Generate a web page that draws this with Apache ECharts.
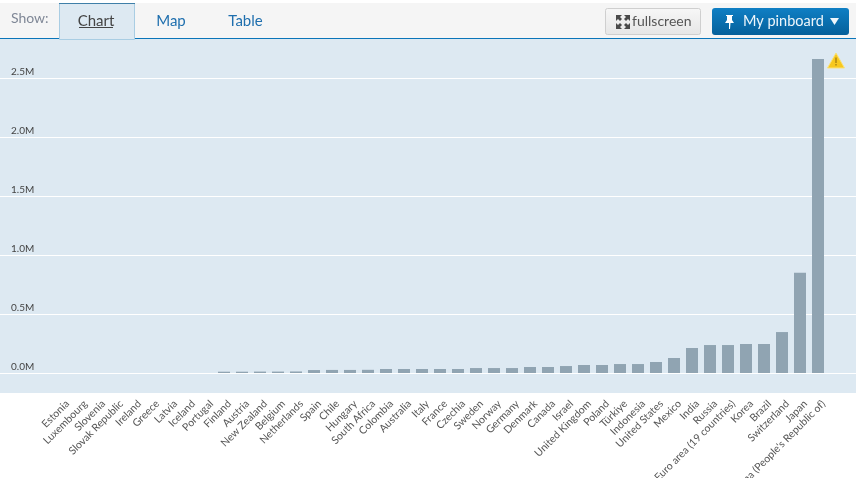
<!DOCTYPE html>
<html><head><meta charset="utf-8">
<style>html,body{margin:0;padding:0;background:#fff}#c{width:856px;height:478px}</style>
<script src="https://cdn.jsdelivr.net/npm/echarts@6/dist/echarts.min.js"></script>
</head><body><div id="c"></div>
<script>
const categories = ["Estonia","Luxembourg","Slovenia","Slovak Republic","Ireland","Greece","Latvia","Iceland","Portugal","Finland","Austria","New Zealand","Belgium","Netherlands","Spain","Chile","Hungary","South Africa","Colombia","Australia","Italy","France","Czechia","Sweden","Norway","Germany","Denmark","Canada","Israel","United Kingdom","Poland","Türkiye","Indonesia","United States","Mexico","India","Russia","Euro area (19 countries)","Korea","Brazil","Switzerland","Japan","China (People's Republic of)"];
const values = [0,0,0,0,0,0,0,0,0,0.011,0.011,0.012,0.012,0.013,0.025,0.026,0.026,0.027,0.034,0.034,0.034,0.034,0.034,0.042,0.042,0.042,0.051,0.051,0.059,0.068,0.068,0.076,0.076,0.093,0.127,0.212,0.237,0.237,0.246,0.246,0.347,0.85,2.66];
const yTicks = [0,0.5,1,1.5,2,2.5];
const font = 'Lato';
const chart = echarts.init(document.getElementById('c'),null,{renderer:'canvas'});
const grad = (a,b)=>new echarts.graphic.LinearGradient(0,0,0,1,[{offset:0,color:a},{offset:1,color:b}]);
const rect=(x,y,w,h,style,r,z)=>({type:'rect',shape:{x,y,width:w,height:h,r:r||0},style,z:z===undefined?-10:z,silent:true});
const txt=(x,y,t,fill,size,align)=>({type:'text',x,y,style:{text:t,fill,font:size+'px '+font,textAlign:align||'left',textVerticalAlign:'middle'},z:5,silent:true});
const poly=(points,fill)=>({type:'polygon',shape:{points},style:{fill},z:5,silent:true});
const arrow=(x,y,sx,sy)=>poly([[x,y],[x+6*sx,y],[x+4*sx,y+2*sy],[x+6*sx,y+4*sy],[x+4*sx,y+6*sy],[x+2*sx,y+4*sy],[x,y+6*sy]],'#4a4a4a');
chart.setOption({
  animation:false,
  backgroundColor:'#fff',
  graphic:{elements:[
    rect(0,3,856,35,{fill:'#f5f5f5'}),
    rect(0,39,856,354,{fill:'#dde9f2'}),
    rect(0,38,856,1,{fill:'#0a75b9'}),
    rect(59.5,3.5,75,36,{fill:'#dde9f2',stroke:'#a9cde3',lineWidth:1},0,1),
    rect(59,3,76,1,{fill:'#3f7fa8'},0,2),
    txt(11,18,'Show:','#7f8796',14),
    txt(96,21,'Chart','#444',15,'center'),
    rect(79,27,34,1,{fill:'#444'},0,5),
    txt(171,21,'Map','#1f6fae',15,'center'),
    txt(245.5,21,'Table','#1f6fae',15,'center'),
    rect(605.5,8.5,95,26,{fill:grad('#f7f7f7','#e6e6e6'),stroke:'#cfcfcf',lineWidth:1},2,1),
    arrow(616,15,1,1),arrow(630,15,-1,1),arrow(616,29,1,-1),arrow(630,29,-1,-1),
    txt(632,21.5,'fullscreen','#555',14),
    rect(712,8,137,27,{fill:grad('#0f7fc4','#05609b')},3,1),
    poly([[726,15],[733,15],[733,16],[732,16],[732,20],[734,23],[730.5,23],[730,29],[729,29],[729,23],[725,23],[727,20],[727,16],[726,16]],'#fff'),
    txt(743,21.5,'My pinboard','#eef6fb',14.5),
    poly([[830,18],[839,18],[834.5,25]],'#eef6fb'),
    poly([[836,53],[844.5,68],[827.5,68]],'#f7c81e'),
    {type:'polyline',shape:{points:[[836,53],[844.5,68],[827.5,68],[836,53]]},style:{stroke:'#fbe27a',fill:null,lineWidth:1},z:6,silent:true},
    rect(835.2,57.5,1.6,5.5,{fill:'#b08a12'},0,7),
    rect(835.2,64,1.6,1.6,{fill:'#b08a12'},0,7)
  ]},
  grid:[
    {left:0,right:0,top:78,height:295,outerBoundsMode:'none',containLabel:false},
    {left:53,right:29,top:78,height:295,outerBoundsMode:'none',containLabel:false},
    {left:58.5,right:23.5,top:78,height:295,outerBoundsMode:'none',containLabel:false}
  ],
  xAxis:[
    {gridIndex:0,type:'value',min:0,max:1,show:false},
    {gridIndex:1,type:'category',data:categories,
     axisLine:{show:false},axisTick:{show:false},axisLabel:{show:false}},
    {gridIndex:2,type:'category',data:categories,
     axisLine:{show:false},axisTick:{show:false},
     axisLabel:{interval:0,rotate:45,margin:29,color:'#555',fontFamily:font,fontSize:10.5,hideOverlap:false}}
  ],
  yAxis:[
    {gridIndex:0,type:'value',min:0,max:2.5,interval:0.5,
     axisLine:{show:false},axisTick:{show:false},
     splitLine:{show:true,lineStyle:{color:'#ffffff',width:1}},
     axisLabel:{inside:true,margin:11,color:'#444',fontFamily:font,fontSize:10,verticalAlign:'bottom',padding:[0,0,1,0],
       formatter:v=>yTicks.includes(v)?v.toFixed(1)+'M':''}},
    {gridIndex:1,type:'value',min:0,max:2.5,show:false},
    {gridIndex:2,type:'value',min:0,max:2.5,show:false}
  ],
  series:[{type:'bar',xAxisIndex:1,yAxisIndex:1,data:values,barWidth:12,itemStyle:{color:'#90a4b2'},clip:false,z:3}]
});
</script></body></html>
